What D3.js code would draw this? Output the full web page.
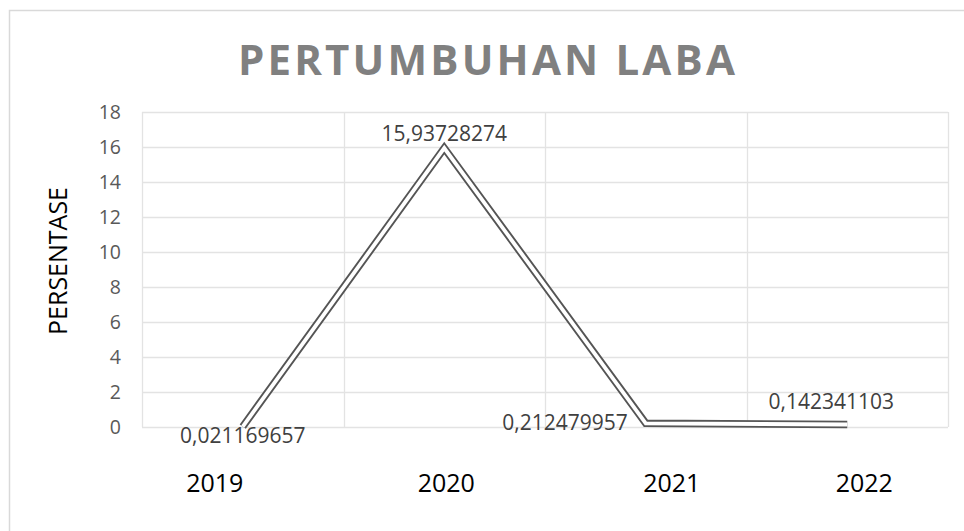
<!DOCTYPE html>
<html>
<head>
<meta charset="utf-8">
<script src="https://cdn.jsdelivr.net/npm/d3@7"></script>
<style>
  body { margin: 0; background: #fff; }
  svg { display: block; font-family: "Open Sans", sans-serif; }
</style>
</head>
<body>
<svg width="964" height="531"></svg>
<script>
var years = ["2019", "2020", "2021", "2022"];
var growth = [0.021169657, 15.93728274, 0.212479957, 0.142341103];
var labels = ["0,021169657", "15,93728274", "0,212479957", "0,142341103"];
var labelPos = ["below", "above", "left", "above"];
var yTicks = [0, 2, 4, 6, 8, 10, 12, 14, 16, 18];

var svg = d3.select("svg");

// chart frame (runs off the right/bottom edge like the screenshot)
svg.append("rect")
    .attr("x", 9.5).attr("y", 10.5)
    .attr("width", 980).attr("height", 540)
    .attr("fill", "#fff")
    .attr("stroke", "#d9d9d9")
    .attr("stroke-width", 1.5);

var margin = { left: 142, right: 948, top: 112, bottom: 427 };

var x = d3.scaleBand()
    .domain(years)
    .range([margin.left, margin.right]);

var y = d3.scaleLinear()
    .domain([0, 18])
    .range([margin.bottom, margin.top]);

var grid = svg.append("g");

// horizontal gridlines
grid.selectAll("line.h")
    .data(yTicks)
    .enter()
    .append("line")
    .attr("class", "h")
    .attr("x1", margin.left).attr("x2", margin.right)
    .attr("y1", function (d) { return Math.round(y(d)) + 0.5; })
    .attr("y2", function (d) { return Math.round(y(d)) + 0.5; })
    .attr("stroke", "#e3e3e3")
    .attr("stroke-width", 1.3);

// vertical gridlines between categories
var bounds = years.map(function (d) { return x(d); }).concat([margin.right]);
grid.selectAll("line.v")
    .data(bounds)
    .enter()
    .append("line")
    .attr("class", "v")
    .attr("x1", function (d) { return Math.round(d) + 0.5; })
    .attr("x2", function (d) { return Math.round(d) + 0.5; })
    .attr("y1", margin.top).attr("y2", margin.bottom)
    .attr("stroke", "#e3e3e3")
    .attr("stroke-width", 1.3);

// y tick labels
svg.append("g")
    .selectAll("text")
    .data(yTicks)
    .enter()
    .append("text")
    .attr("x", 121)
    .attr("y", function (d) { return y(d); })
    .attr("dy", "0.36em")
    .attr("text-anchor", "end")
    .attr("fill", "#595959")
    .style("font-size", "19.5px")
    .text(function (d) { return d; });

// x category labels (the original has them nudged around a bit)
var catShift = [-28, 2, 26, 17];
svg.append("g")
    .selectAll("text")
    .data(years)
    .enter()
    .append("text")
    .attr("x", function (d, i) { return x(d) + x.bandwidth() / 2 + catShift[i]; })
    .attr("y", 492)
    .attr("text-anchor", "middle")
    .attr("fill", "#000")
    .style("font-size", "25px")
    .text(function (d) { return d; });

// axis title
svg.append("text")
    .attr("transform", "translate(67,261) rotate(-90)")
    .attr("text-anchor", "middle")
    .attr("fill", "#000")
    .style("font-size", "25px")
    .text("PERSENTASE");

// chart title, stretched with letter spacing
var title = svg.append("text")
    .attr("x", 488)
    .attr("y", 75)
    .attr("text-anchor", "middle")
    .attr("fill", "#808080")
    .style("font-size", "42px")
    .style("font-weight", "bold")
    .text("PERTUMBUHAN LABA");
var tw = title.node().getComputedTextLength();
var spacing = (497 - tw) / 15;
title.style("letter-spacing", spacing + "px");

// double (compound) line
var line = d3.line()
    .x(function (d, i) { return x(years[i]) + x.bandwidth() / 2; })
    .y(function (d) { return y(d); });

svg.append("path")
    .datum(growth)
    .attr("d", line)
    .attr("fill", "none")
    .attr("stroke", "#555")
    .attr("stroke-width", 7.6)
    .attr("stroke-linejoin", "miter");

svg.append("path")
    .datum(growth)
    .attr("d", line)
    .attr("fill", "none")
    .attr("stroke", "#fff")
    .attr("stroke-width", 3.8)
    .attr("stroke-linejoin", "miter");

// data labels
svg.append("g")
    .selectAll("text")
    .data(growth)
    .enter()
    .append("text")
    .attr("x", function (d, i) {
        var cx = x(years[i]) + x.bandwidth() / 2;
        if (labelPos[i] === "left") return cx - 18;
        if (i === 3) return cx - 16;
        return cx;
    })
    .attr("y", function (d, i) {
        var cy = y(d);
        if (labelPos[i] === "below") return cy + 16;
        if (labelPos[i] === "above") return cy - (i === 3 ? 16 : 7);
        return cy + 7;
    })
    .attr("text-anchor", function (d, i) { return labelPos[i] === "left" ? "end" : "middle"; })
    .attr("fill", "#404040")
    .style("font-size", "21px")
    .text(function (d, i) { return labels[i]; });
</script>
</body>
</html>
